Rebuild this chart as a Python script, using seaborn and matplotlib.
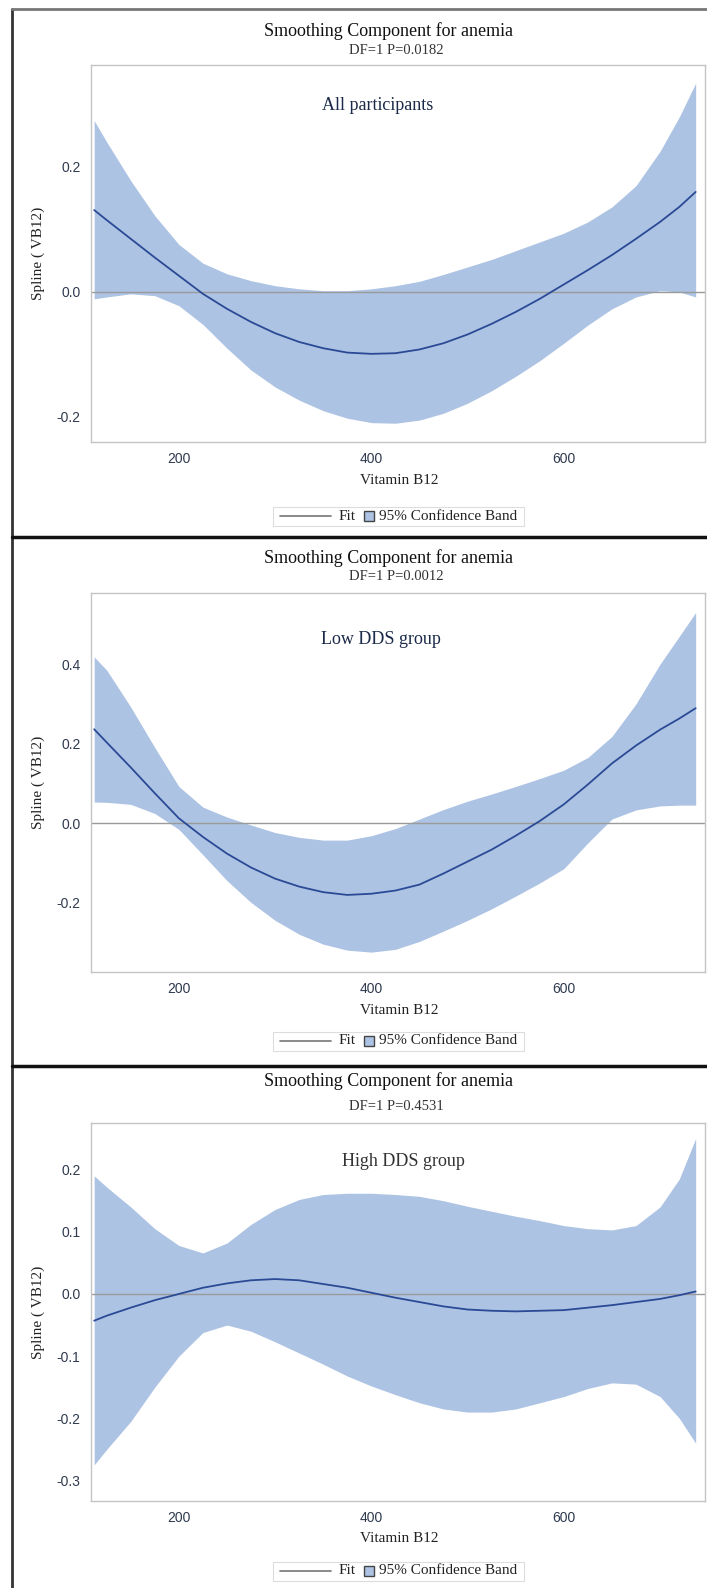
import matplotlib
matplotlib.use("Agg")
import matplotlib.pyplot as plt
from matplotlib.patches import Rectangle
import seaborn as sns
import pandas as pd

# Vitamin B12 grid the values were read at
vb12 = [112, 125, 150, 175, 200, 225, 250, 275, 300, 325, 350, 375, 400, 425,
        450, 475, 500, 525, 550, 575, 600, 625, 650, 675, 700, 720, 737]

# All participants
fit_all = [0.131, 0.115, 0.085, 0.055, 0.026, -0.003, -0.027, -0.048, -0.066, -0.080,
           -0.090, -0.097, -0.099, -0.098, -0.092, -0.082, -0.068, -0.051, -0.032,
           -0.011, 0.012, 0.035, 0.059, 0.085, 0.112, 0.136, 0.160]
upper_all = [0.274, 0.240, 0.178, 0.122, 0.076, 0.046, 0.029, 0.018, 0.010, 0.005,
             0.002, 0.002, 0.005, 0.010, 0.017, 0.028, 0.040, 0.052, 0.066, 0.080,
             0.094, 0.112, 0.136, 0.170, 0.225, 0.280, 0.334]
lower_all = [-0.011, -0.008, -0.003, -0.006, -0.022, -0.052, -0.090, -0.125, -0.152,
             -0.173, -0.190, -0.202, -0.209, -0.210, -0.205, -0.194, -0.178, -0.158,
             -0.135, -0.110, -0.082, -0.053, -0.027, -0.008, 0.002, 0.000, -0.008]

# Low DDS group
fit_low = [0.236, 0.203, 0.140, 0.075, 0.012, -0.035, -0.077, -0.112, -0.140, -0.160,
           -0.174, -0.181, -0.178, -0.170, -0.155, -0.127, -0.097, -0.067, -0.032,
           0.005, 0.047, 0.097, 0.150, 0.195, 0.235, 0.263, 0.289]
upper_low = [0.418, 0.385, 0.292, 0.190, 0.092, 0.040, 0.015, -0.005, -0.024, -0.036,
             -0.043, -0.043, -0.032, -0.014, 0.010, 0.034, 0.055, 0.073, 0.092, 0.112,
             0.133, 0.165, 0.218, 0.300, 0.400, 0.470, 0.530]
lower_low = [0.053, 0.052, 0.047, 0.024, -0.016, -0.080, -0.145, -0.200, -0.245, -0.280,
             -0.305, -0.320, -0.325, -0.318, -0.298, -0.272, -0.245, -0.216, -0.184,
             -0.151, -0.115, -0.050, 0.010, 0.033, 0.043, 0.045, 0.045]

# High DDS group
fit_high = [-0.043, -0.035, -0.022, -0.010, 0.000, 0.010, 0.017, 0.022, 0.024, 0.022,
            0.016, 0.010, 0.002, -0.006, -0.013, -0.020, -0.025, -0.027, -0.028,
            -0.027, -0.026, -0.022, -0.018, -0.013, -0.008, -0.002, 0.004]
upper_high = [0.190, 0.172, 0.140, 0.105, 0.078, 0.066, 0.082, 0.112, 0.136, 0.152,
              0.160, 0.162, 0.162, 0.160, 0.157, 0.150, 0.141, 0.133, 0.125, 0.118,
              0.110, 0.105, 0.103, 0.110, 0.140, 0.185, 0.250]
lower_high = [-0.275, -0.250, -0.205, -0.150, -0.100, -0.062, -0.050, -0.060, -0.077,
              -0.095, -0.113, -0.132, -0.148, -0.162, -0.175, -0.185, -0.190, -0.190,
              -0.185, -0.175, -0.165, -0.152, -0.143, -0.145, -0.165, -0.200, -0.240]

groups = ["All participants", "Low DDS group", "High DDS group"]
p_texts = ["DF=1 P=0.0182", "DF=1 P=0.0012", "DF=1 P=0.4531"]
yticks = [[-0.2, 0.0, 0.2], [-0.2, 0.0, 0.2, 0.4], [-0.3, -0.2, -0.1, 0.0, 0.1, 0.2]]
ylims = [(-0.24, 0.363), (-0.375, 0.579), (-0.333, 0.275)]
series = [(fit_all, lower_all, upper_all), (fit_low, lower_low, upper_low),
          (fit_high, lower_high, upper_high)]

sns.set_style("white")
serif = "Liberation Serif"
sans = "Liberation Sans"

W, H = 707, 1588
fig = plt.figure(figsize=(W / 100, H / 100), dpi=100)
fig.patch.set_facecolor("white")

band_col = "#adc3e3"
line_col = "#2a4a96"

# pixel layout of each panel: axes top, axes bottom, title, subtitle, inner label, xlabel, legend
layout = [
    dict(top=65, bot=442, title=31, sub=50, inner=(378, 105), xlab=481, leg=516),
    dict(top=593, bot=972, title=558, sub=576, inner=(381, 639), xlab=1010, leg=1041),
    dict(top=1123, bot=1501, title=1081, sub=1106, inner=(403, 1161), xlab=1539, leg=1571),
]
ax_left, ax_right = 91, 705
inner_colors = ["#1b2a48", "#1b2a48", "#333333"]

for i, (fit, lo, up) in enumerate(series):
    L = layout[i]
    ax = fig.add_axes([ax_left / W, 1 - L["bot"] / H, (ax_right - ax_left) / W,
                       (L["bot"] - L["top"]) / H])
    df = pd.DataFrame({"vb12": vb12, "fit": fit, "lower": lo, "upper": up})
    ax.fill_between(df["vb12"], df["lower"], df["upper"], color=band_col, lw=0, zorder=1)
    ax.axhline(0, color="#9a9a9a", lw=1.0, zorder=2)
    sns.lineplot(data=df, x="vb12", y="fit", ax=ax, color=line_col, lw=1.3,
                 legend=False, zorder=3)
    ax.set_xlim(108.7, 746.7)
    ax.set_ylim(*ylims[i])
    ax.set_xticks([200, 400, 600])
    ax.set_yticks(yticks[i])
    ax.set_yticklabels(["%.1f" % v for v in yticks[i]])
    ax.tick_params(axis="both", length=3, width=0.8, color="#b0b0b0", pad=4.5,
                   labelsize=10, labelcolor="#2f3a4f")
    for lab in ax.get_xticklabels() + ax.get_yticklabels():
        lab.set_fontfamily(sans)
    for sp in ax.spines.values():
        sp.set_color("#c4c4c4")
        sp.set_linewidth(1.0)
    ax.set_xlabel("")
    ax.set_ylabel("Spline ( VB12)", fontfamily=serif, fontsize=11, color="#222222",
                  labelpad=8)

    fig.text(389 / W, 1 - L["title"] / H, "Smoothing Component for anemia",
             ha="center", va="center", fontfamily=serif, fontsize=13, color="#111111")
    fig.text(396 / W, 1 - L["sub"] / H, p_texts[i], ha="center", va="center",
             fontfamily=serif, fontsize=10.5, color="#333333")
    fig.text(L["inner"][0] / W, 1 - L["inner"][1] / H, groups[i], ha="center",
             va="center", fontfamily=serif, fontsize=13, color=inner_colors[i])
    fig.text(399 / W, 1 - L["xlab"] / H, "Vitamin B12", ha="center", va="center",
             fontfamily=serif, fontsize=11, color="#222222")

# overlay in pixel coordinates: frame, separators, legends
frame = fig.add_axes([0, 0, 1, 1], facecolor="none")
frame.set_xlim(0, W)
frame.set_ylim(H, 0)
frame.axis("off")
frame.plot([12, 12], [9, H], color="#333333", lw=2.0)
frame.plot([12, W], [9, 9], color="#777777", lw=2.0)
frame.plot([12, W], [537, 537], color="#111111", lw=2.5)
frame.plot([12, W], [1066, 1066], color="#111111", lw=2.5)

for L in layout:
    cy = L["leg"]
    frame.add_patch(Rectangle((273, cy - 9.5), 251, 19, facecolor="white",
                              edgecolor="#dddddd", lw=0.8))
    frame.plot([280, 331], [cy, cy], color="#777777", lw=1.2)
    frame.text(339, cy, "Fit", ha="left", va="center", fontfamily=serif,
               fontsize=11, color="#222222")
    frame.add_patch(Rectangle((364, cy - 5), 10, 10, facecolor=band_col,
                              edgecolor="#444444", lw=1.0))
    frame.text(379, cy, "95% Confidence Band", ha="left", va="center",
               fontfamily=serif, fontsize=11, color="#222222")

fig.savefig("out.png", dpi=100, facecolor="white")
